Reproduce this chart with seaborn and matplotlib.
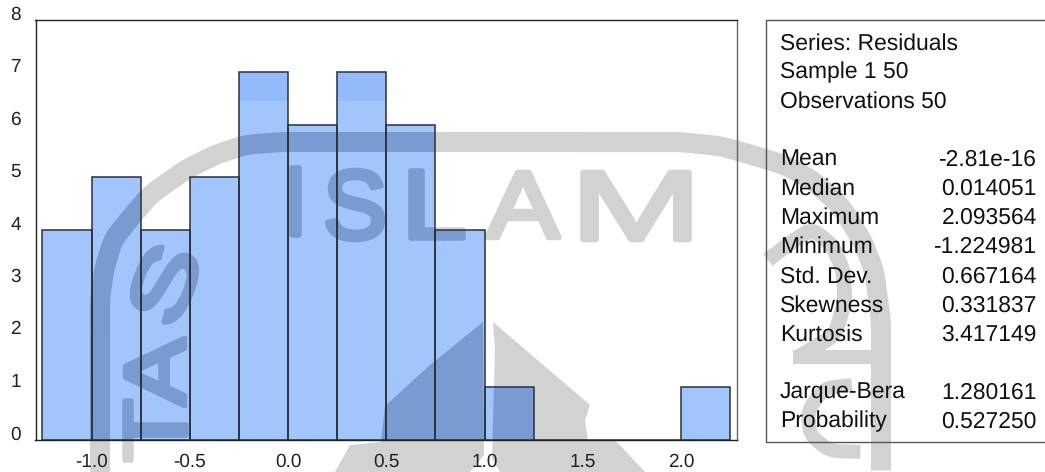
import matplotlib
matplotlib.use("Agg")
import numpy as np
import seaborn as sns
import matplotlib.pyplot as plt
from matplotlib.font_manager import FontProperties
from matplotlib.lines import Line2D
from matplotlib.patches import PathPatch
from matplotlib.path import Path
from matplotlib.text import TextPath
from matplotlib.transforms import Affine2D, IdentityTransform

# Histogram data
bin_edges = [-1.25, -1.0, -0.75, -0.5, -0.25, 0.0, 0.25, 0.5, 0.75, 1.0, 1.25, 1.5, 1.75, 2.0, 2.25]
counts = [4, 5, 4, 5, 7, 6, 7, 6, 4, 1, 0, 0, 0, 1]
x_ticks = [-1.25, -1.0, -0.75, -0.5, -0.25, 0.0, 0.25, 0.5, 0.75, 1.0, 1.25, 1.5, 1.75, 2.0, 2.25]
x_labels = ["", "-1.0", "", "-0.5", "", "0.0", "", "0.5", "", "1.0", "", "1.5", "", "2.0", ""]
y_ticks = [0, 1, 2, 3, 4, 5, 6, 7, 8]

# Stats panel
header_lines = ["Series: Residuals", "Sample 1 50", "Observations 50"]
stat_names = ["Mean", "Median", "Maximum", "Minimum", "Std. Dev.", "Skewness", "Kurtosis", "Jarque-Bera", "Probability"]
stat_values = ["-2.81e-16", "0.014051", "2.093564", "-1.224981", "0.667164", "0.331837", "3.417149", "1.280161", "0.527250"]
stat_y = [157, 186, 215, 244, 274, 303, 332, 390, 419]

W, H = 1045, 472
BAR = "#a2c5fb"
BAR_TOP = "#93bafb"
MARK_ON_BAR = "#7a9bd0"
MARK_ON_WHITE = "#d2d2d2"

sns.set_style("white")
plt.rcParams["font.family"] = ["Liberation Sans", "DejaVu Sans"]
plt.rcParams["text.hinting"] = "no_hinting"

fig = plt.figure(figsize=(W / 100, H / 100), dpi=100, facecolor="white")
ax = fig.add_axes([35.5 / W, (H - 439.5) / H, 701.2 / W, 420 / H])
ax.patch.set_visible(False)

# Bars, outlines go on a second layer so the background stamp sits between them
mids = [(a + b) / 2 for a, b in zip(bin_edges[:-1], bin_edges[1:])]
sns.histplot(x=mids, weights=counts, bins=bin_edges, color=BAR, alpha=1, linewidth=0, ax=ax, zorder=1)
fill_bars = [p for p in ax.patches if p.get_height() > 0]
sns.histplot(x=mids, weights=counts, bins=bin_edges, fill=False, color="#2b3038", linewidth=1.1, ax=ax, zorder=3)

ax.set_xlim(-1.285, 2.283)
ax.set_ylim(0, 8)
ax.set_xlabel("")
ax.set_ylabel("")
ax.set_xticks(x_ticks)
ax.set_xticklabels(x_labels)
ax.set_yticks(y_ticks)
ax.tick_params(axis="x", length=4.5, width=0.8, color="#333333", labelsize=13.7, labelcolor="#222222", pad=5)
ax.tick_params(axis="y", length=6.5, width=0.8, color="#555555", labelsize=13.7, labelcolor="#222222", pad=4)
for lab in ax.get_yticklabels():
    lab.set_va("baseline")
for side in ax.spines:
    ax.spines[side].set_visible(True)
    ax.spines[side].set_color("#222222")
    ax.spines[side].set_linewidth(1.0)
ax.spines["right"].set_color("#666666")

# Union of the bars in display space, used to clip the stamp overlay
bar_path = Path.make_compound_path(*[
    p.get_path().transformed(p.get_patch_transform() + ax.transData) for p in fill_bars
])
bar_clip = PathPatch(bar_path, transform=IdentityTransform())


def letter(ch, cx, cy, width, height, rot=0):
    fp = FontProperties(family="Liberation Sans")
    tp = TextPath((0, 0), ch, size=100, prop=fp)
    box = tp.get_extents()
    tr = (Affine2D()
          .translate(-(box.x0 + box.x1) / 2, -(box.y0 + box.y1) / 2)
          .scale(width / box.width, height / box.height)
          .rotate_deg(rot)
          .translate(cx, H - cy))
    return tp.transformed(tr)


def smooth(pts, n=9):
    # round off the hand placed logo outline
    pts = np.array(pts, dtype=float)
    seg = np.r_[0, np.cumsum(np.hypot(*np.diff(pts, axis=0).T))]
    t = np.arange(0, seg[-1], 2.0)
    xs, ys = np.interp(t, seg, pts[:, 0]), np.interp(t, seg, pts[:, 1])
    kernel = np.ones(n) / n
    xs[n:-n] = np.convolve(xs, kernel, mode="same")[n:-n]
    ys[n:-n] = np.convolve(ys, kernel, mode="same")[n:-n]
    return xs, ys


# Faint logo behind the chart: pixel positions from the top left of the picture
ring = [(100, 472), (100, 300), (104, 270), (113, 240), (127, 222), (150, 195), (185, 170), (215, 155),
        (245, 145), (280, 142), (680, 142), (720, 146), (745, 153), (785, 165), (812, 180), (840, 205),
        (862, 240), (874, 270), (881, 320), (881, 472)]
hook = [(768, 260), (790, 243), (812, 229), (832, 245), (843, 270), (845, 300), (835, 335), (800, 356)]
loop = [(852, 385), (825, 388), (808, 410), (810, 435), (830, 451), (862, 452)]
strokes = [(ring, 20), (hook, 15), (loop, 14)]
letters = [("I", 295, 201, 7, 67, 0), ("S", 355, 205, 55, 69, 0), ("L", 437, 204, 52, 67, 0),
           ("A", 523, 205, 72, 65, 0), ("M", 636, 206, 106, 67, 0),
           ("S", 164, 284, 70, 57, 68), ("A", 155, 372, 67, 59, 90), ("T", 155, 430, 59, 61, 90)]
shapes = [
    [(483, 322), (430, 365), (385, 406), (381, 442), (350, 445), (335, 472), (470, 472), (484, 455)],
    [(493, 322), (590, 405), (585, 420), (588, 441), (615, 440), (645, 472), (500, 472), (492, 458), (495, 350)],
    [(793, 350), (871, 350), (871, 364), (793, 364)],
]


def stamp(color, add, clip=None, zorder=1):
    for pts, w in strokes:
        xs, ys = smooth(pts)
        line = Line2D(xs, H - ys, color=color, linewidth=w * 0.72, transform=IdentityTransform(),
                      solid_capstyle="butt", solid_joinstyle="round", zorder=zorder)
        if clip is not None:
            line.set_clip_path(clip)
        add(line)
    for item in letters:
        # thicken the regular glyphs with an edge, the logo letters are heavy and rounded
        patch = PathPatch(letter(*item), facecolor=color, edgecolor=color, linewidth=4.0,
                          joinstyle="round", transform=IdentityTransform(), zorder=zorder)
        if clip is not None:
            patch.set_clip_path(clip)
        add(patch)
    for pts in shapes:
        path = Path([(x, H - y) for x, y in pts] + [pts[0]], closed=True)
        patch = PathPatch(path, facecolor=color, edgecolor="none", transform=IdentityTransform(), zorder=zorder)
        if clip is not None:
            patch.set_clip_path(clip)
        add(patch)


stamp(MARK_ON_WHITE, fig.add_artist, zorder=-1)
band = ax.axhspan(6.45, 7, color=BAR_TOP, linewidth=0, zorder=1.5)
band.set_clip_path(bar_clip)
stamp(MARK_ON_BAR, ax.add_artist, clip=bar_clip, zorder=2)

# Stats box, open on the right hand edge
fig.add_artist(Line2D([765.7, 765.7], [H - 19.5, H - 442], color="#555555", linewidth=1.0, transform=IdentityTransform()))
fig.add_artist(Line2D([765.7, W], [H - 19.5, H - 19.5], color="#555555", linewidth=1.0, transform=IdentityTransform()))
fig.add_artist(Line2D([765.7, W], [H - 442, H - 442], color="#555555", linewidth=1.0, transform=IdentityTransform()))

for txt, y in zip(header_lines, [41, 70, 99]):
    fig.text(780 / W, 1 - (y + 2.5) / H, txt, fontsize=16.5, color="#111111", va="center", ha="left")
for name, val, y in zip(stat_names, stat_values, stat_y):
    fig.text(780 / W, 1 - (y + 2.5) / H, name, fontsize=16.5, color="#111111", va="center", ha="left")
    fig.text(1037 / W, 1 - (y + 2.5) / H, val, fontsize=16.5, color="#111111", va="center", ha="right")

fig.savefig("out.png", dpi=100)
